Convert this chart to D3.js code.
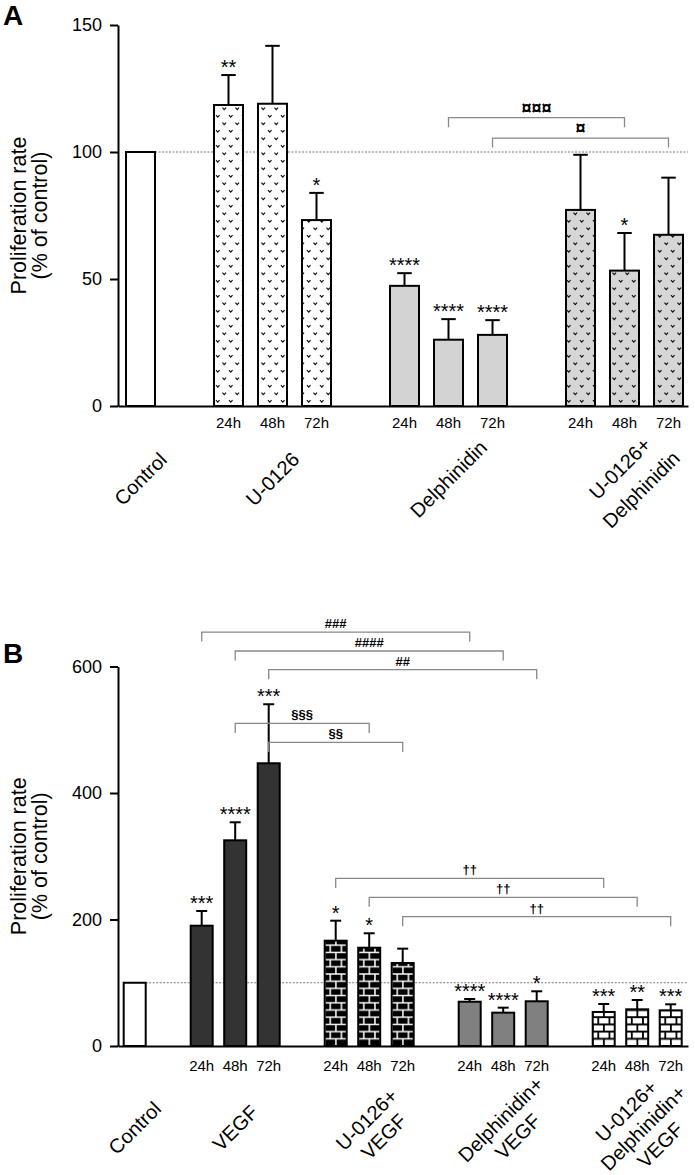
<!DOCTYPE html>
<html><head><meta charset="utf-8">
<script src="https://cdn.jsdelivr.net/npm/d3@7"></script>
<style>
body{margin:0;background:#fff}
svg{display:block}
text{font-family:"Liberation Sans",Arial,Helvetica,sans-serif;fill:#000}
</style>
</head><body>
<svg id="chart" width="695" height="1175"></svg>
<script>
// ---------------- DATA ----------------
const timeLabels = ["24h", "48h", "72h"];

// Panel A
const groupsA = [["Control"], ["U-0126"], ["Delphinidin"], ["U-0126+", "Delphinidin"]];
const controlA = 100;
const meansA = [[118.5, 119.0, 73.2], [47.3, 26.1, 28.0], [77.2, 53.3, 67.4]];
const errorsA = [[11.8, 22.8, 10.7], [5.0, 8.1, 5.8], [21.7, 14.8, 22.5]];
const starsA = [["**", "", "*"], ["****", "****", "****"], ["", "*", ""]];
const ticksA = [0, 50, 100, 150];
const bracketsA = [
  {from: [2, 1], to: [3, 1], level: 113.5, label: "¤¤¤"},
  {from: [2, 2], to: [3, 2], level: 105.5, label: "¤"}
];

// Panel B
const groupsB = [["Control"], ["VEGF"], ["U-0126+", "VEGF"], ["Delphinidin+", "VEGF"], ["U-0126+", "Delphinidin+", "VEGF"]];
const controlB = 100;
const meansB = [[190.2, 325.2, 447.0], [166.5, 155.4, 131.2], [70.0, 52.7, 70.7], [53.8, 58.0, 56.4]];
const errorsB = [[23.2, 28.5, 93.3], [31.6, 22.8, 22.7], [4.3, 7.9, 15.8], [12.6, 14.7, 9.5]];
const starsB = [["***", "****", "***"], ["*", "*", ""], ["****", "****", "*"], ["***", "**", "***"]];
const ticksB = [0, 200, 400, 600];
const bracketsB = [
  {from: [1, 0], to: [3, 0], level: 654.5, label: "###"},
  {from: [1, 1], to: [3, 1], level: 624.5, label: "####"},
  {from: [1, 2], to: [3, 2], level: 595, label: "##"},
  {from: [1, 1], to: [2, 1], level: 510, label: "§§§"},
  {from: [1, 2], to: [2, 2], level: 480, label: "§§"},
  {from: [2, 0], to: [4, 0], level: 265, label: "††"},
  {from: [2, 1], to: [4, 1], level: 235, label: "††"},
  {from: [2, 2], to: [4, 2], level: 204.4, label: "††"}
];

// ---------------- DRAWING ----------------
const svg = d3.select("#chart");
const defs = svg.append("defs");
const slot = (g, t) => g === 0 ? 1 : 3 + (g - 1) * 4 + t;

// small "v" dot pattern
function vPattern(id, bg) {
  const W = 13, H = 15;
  const p = defs.append("pattern").attr("id", id).attr("patternUnits", "userSpaceOnUse")
    .attr("width", W).attr("height", H);
  p.append("rect").attr("width", W).attr("height", H).attr("fill", bg);
  [[3.25, 3.75], [9.75, 11.25]].forEach(([cx, cy]) => {
    p.append("path").attr("d", `M${cx - 1.8},${cy - 1.2}L${cx},${cy + 0.9}L${cx + 1.8},${cy - 1.2}`)
      .attr("fill", "none").attr("stroke", "#111").attr("stroke-width", 1.15);
  });
}
vPattern("vW", "#ffffff");
vPattern("vG", "#d6d6d6");

function brickPattern(id, bg, fg, sw, x0, y0, W, H) {
  const p = defs.append("pattern").attr("id", id).attr("patternUnits", "userSpaceOnUse")
    .attr("x", x0).attr("y", y0).attr("width", W).attr("height", H);
  p.append("rect").attr("width", W).attr("height", H).attr("fill", bg);
  const h = H / 2;
  p.append("path")
    .attr("d", `M0,0H${W}M0,${h}H${W}M0,${H}H${W}M${W / 2},0V${h}M0,${h}V${H}M${W},${h}V${H}`)
    .attr("stroke", fg).attr("stroke-width", sw).attr("fill", "none");
}

function drawPanel(cfg) {
  const {x, y, groups, control, means, errors, stars, ticks, brackets, fills, bw,
         letter, letterY, timeDy, labelCy, lineH, starSize, brFont, brColor} = cfg;
  const g = svg.append("g");
  const y0 = y(0);

  // reference dotted line at control level
  const ctrlRight = x(slot(0, 0)) + bw / 2;
  g.append("line").attr("x1", ctrlRight).attr("x2", 688).attr("y1", y(control)).attr("y2", y(control))
    .attr("stroke", "#777").attr("stroke-width", 1).attr("stroke-dasharray", "2,1.5");

  // bars
  const bars = [{g: 0, t: 0, v: control, e: 0, s: ""}];
  means.forEach((row, gi) => row.forEach((v, t) =>
    bars.push({g: gi + 1, t, v, e: errors[gi][t], s: stars[gi][t]})));

  const bg = g.append("g");
  bars.forEach(d => {
    const cx = x(slot(d.g, d.t));
    if (d.e > 0) {
      bg.append("line").attr("x1", cx).attr("x2", cx).attr("y1", y(d.v)).attr("y2", y(d.v + d.e))
        .attr("stroke", "#000").attr("stroke-width", 2);
      bg.append("line").attr("x1", cx - bw / 4).attr("x2", cx + bw / 4)
        .attr("y1", y(d.v + d.e)).attr("y2", y(d.v + d.e))
        .attr("stroke", "#000").attr("stroke-width", 2);
    }
    bg.append("rect").attr("x", cx - bw / 2).attr("width", bw)
      .attr("y", y(d.v)).attr("height", y0 - y(d.v))
      .attr("fill", fills[d.g]).attr("stroke", "#000").attr("stroke-width", 2);
    if (d.s) {
      bg.append("text").attr("x", cx).attr("y", y(d.v + d.e) - 1).attr("text-anchor", "middle")
        .attr("font-size", starSize).text(d.s);
    }
    if (d.g > 0) {
      g.append("text").attr("x", cx).attr("y", y0 + timeDy).attr("text-anchor", "middle")
        .attr("font-size", 15).text(timeLabels[d.t]);
    }
  });

  // y axis
  const ax = g.append("g").attr("transform", "translate(118,0)")
    .call(d3.axisLeft(y).tickValues(ticks).tickSize(8).tickSizeOuter(0).tickPadding(8).tickFormat(d3.format("d")));
  ax.attr("font-size", 18).attr("font-family", null);
  ax.select(".domain").attr("stroke-width", 2).attr("stroke", "#000");
  ax.selectAll(".tick line").attr("stroke-width", 2).attr("stroke", "#000");
  ax.selectAll(".tick text").attr("font-size", 18).attr("fill", "#000");

  // x axis baseline
  const xb = g.append("g").attr("transform", `translate(0,${y0})`)
    .call(d3.axisBottom(d3.scaleLinear().range([118, 688])).ticks(0).tickSizeOuter(0));
  xb.select(".domain").attr("stroke-width", 2).attr("stroke", "#000");

  // y title
  const cy = (y.range()[0] + y.range()[1]) / 2;
  const tt = g.append("text").attr("transform", `translate(0,${cy}) rotate(-90)`)
    .attr("text-anchor", "middle").attr("font-size", 21.5);
  tt.append("tspan").attr("x", 0).attr("y", 26).text("Proliferation rate");
  tt.append("tspan").attr("x", 0).attr("y", 47).text("(% of control)");

  // panel letter
  g.append("text").attr("x", 3).attr("y", letterY).attr("font-size", 28).attr("font-weight", "bold").text(letter);

  // group labels (rotated)
  groups.forEach((lines, gi) => {
    const n = lines.length;
    const cxg = (gi === 0 ? x(slot(0, 0)) : x(slot(gi, 1))) + (n > 1 ? 6 : 0);
    const t = g.append("text").attr("transform", `translate(${cxg},${labelCy}) rotate(-45)`)
      .attr("text-anchor", "middle").attr("font-size", 20);
    lines.forEach((ln, i) => t.append("tspan").attr("x", 0).attr("y", (i - (n - 1) / 2) * lineH)
      .attr("dy", "0.35em").text(ln));
  });

  // brackets
  brackets.forEach(b => {
    const x1 = x(slot(b.from[0], b.from[1])), x2 = x(slot(b.to[0], b.to[1]));
    const yy = y(b.level);
    g.append("path").attr("d", `M${x1},${yy + 9.5}V${yy}H${x2}V${yy + 9.5}`)
      .attr("fill", "none").attr("stroke", brColor).attr("stroke-width", 1.3);
    g.append("text").attr("x", (x1 + x2) / 2).attr("y", yy - 4).attr("text-anchor", "middle")
      .attr("font-size", brFont).attr("font-weight", "bold").text(b.label);
  });
}

// Panel A
const xA = d3.scaleLinear().domain([1, 13]).range([140.5, 668.5]);
const yA = d3.scaleLinear().domain([0, 150]).range([406, 25]);
drawPanel({
  x: xA, y: yA, groups: groupsA, control: controlA, means: meansA, errors: errorsA, stars: starsA,
  ticks: ticksA, brackets: bracketsA, fills: ["#ffffff", "url(#vW)", "#d3d3d3", "url(#vG)"],
  bw: 29, letter: "A", letterY: 25, timeDy: 22, labelCy: 479, lineH: 30, starSize: 20,
  brFont: 18, brColor: "#888"
});

// Panel B
const xB = d3.scaleLinear().domain([1, 17]).range([134.7, 670.7]);
const yB = d3.scaleLinear().domain([0, 600]).range([1046, 666.5]);
const stepB = xB(2) - xB(1);
brickPattern("brK", "#000", "#fff", 1.5, xB(slot(2, 0)) - 11, yB(0), stepB / 3, 14.4);
brickPattern("brW", "#fff", "#000", 1.8, xB(slot(4, 0)) - 11, yB(0), stepB / 3, 14.4);
drawPanel({
  x: xB, y: yB, groups: groupsB, control: controlB, means: meansB, errors: errorsB, stars: starsB,
  ticks: ticksB, brackets: bracketsB, fills: ["#ffffff", "#333333", "url(#brK)", "#808080", "url(#brW)"],
  bw: 22, letter: "B", letterY: 663, timeDy: 25, labelCy: 1128, lineH: 24, starSize: 20,
  brFont: 13, brColor: "#888"
});
</script>
</body></html>
